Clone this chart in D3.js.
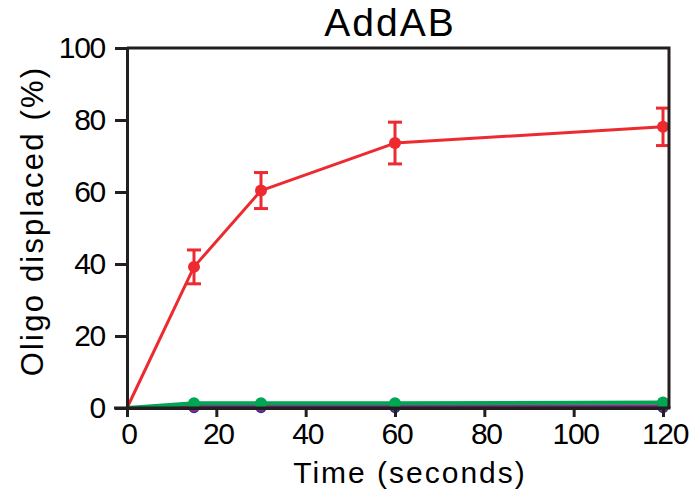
<!DOCTYPE html>
<html>
<head>
<meta charset="utf-8">
<script src="https://cdn.jsdelivr.net/npm/d3@7"></script>
<style>
  html, body { margin: 0; padding: 0; background: #fff; }
  svg { display: block; font-family: "Liberation Sans", Arial, Helvetica, sans-serif; }
</style>
</head>
<body>
<svg id="chart" width="699" height="498"></svg>
<script>
// Time points (seconds)
const times = [0, 15, 30, 60, 120];
// Oligo displaced (%) per condition
const redValues = [0, 39.2, 60.4, 73.6, 78.1];
const redErrors = [0, 4.7, 5.0, 5.8, 5.2];
const greenValues = [0, 1.3, 1.3, 1.3, 1.5];
const purpleValues = [0, 0.4, 0.5, 0.6, 0.6];
const navyValues = [0, 0.1, 0.1, 0.1, 0.1];
const xTicks = [0, 20, 40, 60, 80, 100, 120];
const yTicks = [0, 20, 40, 60, 80, 100];
const title = "AddAB";
const xTitle = "Time (seconds)";
const yTitle = "Oligo displaced (%)";

const svg = d3.select("#chart");
const x = d3.scaleLinear().domain([0, 120]).range([127, 663]);
const y = d3.scaleLinear().domain([0, 100]).range([408, 48]);
const axisColor = "#231f20";
const frameRight = x.range()[1] + 6;

// Series lines and markers (bottom to top)
const line = d3.line().x((d, i) => x(times[i])).y(d => y(d));
function series(values, color, width, r) {
  svg.append("path").datum(values)
    .attr("d", line).attr("fill", "none")
    .attr("stroke", color).attr("stroke-width", width)
    .attr("stroke-linejoin", "round");
  svg.append("g").selectAll("circle").data(values.slice(1)).join("circle")
    .attr("cx", (d, i) => x(times[i + 1])).attr("cy", d => y(d))
    .attr("r", r).attr("fill", color);
}
series(navyValues, "#2e3192", 3, 5.5);
series(purpleValues, "#92278f", 3, 5.5);
series(greenValues, "#00a651", 4, 6);

// Error bars on the red series
const eg = svg.append("g").attr("stroke", "#ed2a2f").attr("stroke-width", 3);
times.forEach((t, i) => {
  if (!redErrors[i]) return;
  const cx = x(t), top = y(redValues[i] + redErrors[i]), bot = y(redValues[i] - redErrors[i]);
  eg.append("line").attr("x1", cx).attr("x2", cx).attr("y1", top).attr("y2", bot);
  eg.append("line").attr("x1", cx - 7).attr("x2", cx + 7).attr("y1", top).attr("y2", top);
  eg.append("line").attr("x1", cx - 7).attr("x2", cx + 7).attr("y1", bot).attr("y2", bot);
});
series(redValues, "#ed2a2f", 3, 6);

// Frame: top and right borders
svg.append("path")
  .attr("d", `M${x.range()[0]},${y(100)}H${frameRight}V${y(0)}`)
  .attr("fill", "none").attr("stroke", axisColor).attr("stroke-width", 3);

// Axes
const xAxis = svg.append("g").attr("transform", `translate(0,${y(0)})`)
  .call(d3.axisBottom(x).tickValues(xTicks).tickSize(9).tickPadding(6).tickSizeOuter(0));
const yAxis = svg.append("g").attr("transform", `translate(${x(0)},0)`)
  .call(d3.axisLeft(y).tickValues(yTicks).tickSize(12).tickPadding(10).tickSizeOuter(0));
[xAxis, yAxis].forEach(a => {
  a.select(".domain").attr("stroke", axisColor).attr("stroke-width", 3);
  a.selectAll(".tick line").attr("stroke", axisColor).attr("stroke-width", 3);
  a.selectAll(".tick text").attr("fill", "#000").attr("font-size", 30)
    .attr("letter-spacing", "-1.3px")
    .attr("font-family", "'Liberation Sans', Arial, sans-serif");
});
xAxis.selectAll(".tick text").attr("dx", "1.5px");
// extend the x baseline and y axis line to meet the ticks
svg.append("line").attr("x1", x(0) - 13).attr("x2", frameRight + 1.5)
  .attr("y1", y(0)).attr("y2", y(0)).attr("stroke", axisColor).attr("stroke-width", 3);

// Titles
svg.append("text").attr("x", 390).attr("y", 36).attr("text-anchor", "middle")
  .attr("font-size", 39).attr("letter-spacing", "2px").text(title);
svg.append("text").attr("x", 410).attr("y", 483).attr("text-anchor", "middle")
  .attr("font-size", 30).attr("letter-spacing", "2px").text(xTitle);
svg.append("text").attr("transform", `translate(43,221) rotate(-90)`)
  .attr("text-anchor", "middle").attr("font-size", 31).attr("letter-spacing", "2.2px").text(yTitle);
</script>
</body>
</html>
